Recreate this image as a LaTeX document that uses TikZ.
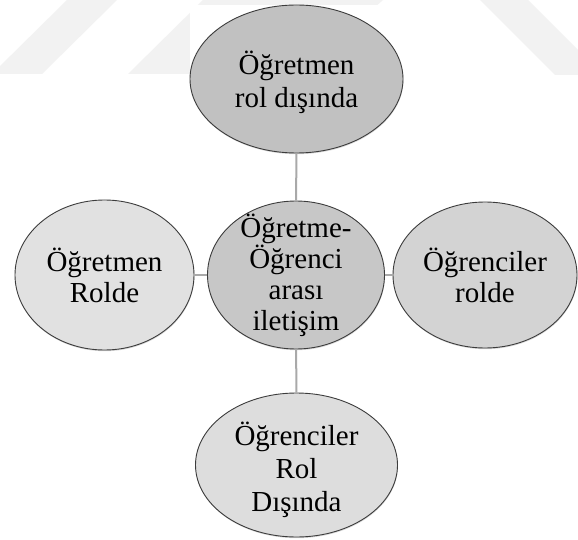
\documentclass[tikz,border=0pt]{standalone}
\usepackage{fontspec}
\setmainfont{Liberation Serif}
\usetikzlibrary{shapes.geometric,shadows}
\definecolor{wmark}{HTML}{F2F2F2}
\definecolor{linkgray}{HTML}{A9A9A9}
\definecolor{edgegray}{HTML}{3C3C3C}
\definecolor{fillA}{HTML}{C1C1C1}
\definecolor{fillB}{HTML}{C7C7C7}
\definecolor{fillC}{HTML}{E1E1E1}
\definecolor{fillD}{HTML}{D3D3D3}
\definecolor{fillE}{HTML}{DDDDDD}
\begin{document}
\begin{tikzpicture}[x=1pt,y=-1pt,
  bubble/.style={ellipse, draw=edgegray, line width=0.9pt, inner sep=0pt,
    drop shadow={opacity=0.3, shadow xshift=0.4pt, shadow yshift=-1.2pt}},
  caption/.style={align=center, font=\fontsize{29}{31}\selectfont, text=black, inner sep=0pt},
  link/.style={draw=linkgray, line width=2pt}]
\useasboundingbox (0,0) rectangle (578,540);
\fill[white] (0,0) rectangle (578,540);
% faint background stripes
\fill[wmark] (-8,74) -- (42,74) -- (117,0) -- (67,0) -- cycle;
\fill[wmark] (128,74) -- (300,74) -- (383,0) -- (203,0) -- cycle;
\fill[wmark] (480,0) -- (528,0) -- (603,75) -- (555,75) -- cycle;
\fill[white] (190,5) rectangle (383,540);

% ellipses
\node[bubble, fill=fillA, minimum width=213, minimum height=148] (top) at (296.5,79) {};
\node[bubble, fill=fillB, minimum width=177, minimum height=148] (mid) at (296,275) {};
\node[bubble, fill=fillC, minimum width=179, minimum height=150] (left) at (104.5,275) {};
\node[bubble, fill=fillD, minimum width=184, minimum height=146] (right) at (485,275) {};
\node[bubble, fill=fillE, minimum width=202, minimum height=144] (bottom) at (296.5,465) {};

% connectors
\draw[link] (top) -- (mid);
\draw[link] (mid) -- (bottom);
\draw[link] (left) -- (mid);
\draw[link] (mid) -- (right);

% texts
\node[caption] (toptext) at (296.5,82) {Öğretmen\\[2pt]rol dışında};
\node[caption] (midtext) at (mid) {Öğretme-\\Öğrenci\\arası\\iletişim};
\node[caption] (lefttext) at (left) {Öğretmen\\Rolde};
\node[caption] (righttext) at (right) {Öğrenciler\\rolde};
\node[caption, font=\fontsize{29}{33}\selectfont] (bottomtext) at (296.5,470) {Öğrenciler\\Rol\\Dışında};
\end{tikzpicture}
\end{document}
